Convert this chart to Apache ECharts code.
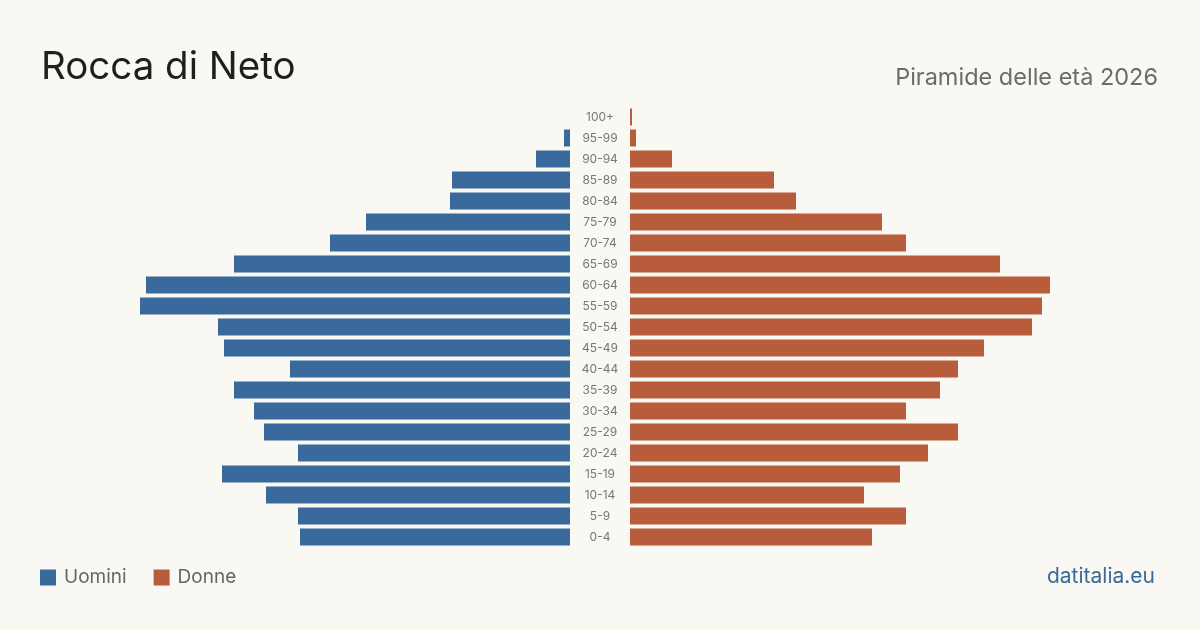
<!DOCTYPE html>
<html>
<head>
<meta charset="utf-8">
<script src="https://cdn.jsdelivr.net/npm/echarts@6/dist/echarts.min.js"></script>
<style>
html,body{margin:0;padding:0;background:#f9f8f3;}
#chart{width:1200px;height:630px;}
</style>
</head>
<body>
<div id="chart"></div>
<script>
// fasce d'età, dall'alto in basso
var classi = ['100+','95-99','90-94','85-89','80-84','75-79','70-74','65-69','60-64','55-59','50-54','45-49','40-44','35-39','30-34','25-29','20-24','15-19','10-14','5-9','0-4'];
var uomini = [0,3,17,59,60,102,120,168,212,215,176,173,140,168,158,153,136,174,152,136,135];
var donne = [1,3,21,72,83,126,138,185,210,206,201,177,164,155,138,164,149,135,117,138,121];

var blu = '#3a6a9c';
var rosso = '#b95c3b';
var maxVal = 265;

var myChart = echarts.init(document.getElementById('chart'));
var option = {
    backgroundColor: '#f9f8f3',
    animation: false,
    textStyle: {fontFamily: 'Inter'},
    title: [
        {
            text: 'Rocca di Neto',
            left: 41, top: 48, padding: 0,
            textStyle: {fontSize: 38.5, fontWeight: 'normal', color: '#1f1f1f', fontFamily: 'Inter'}
        },
        {
            text: 'Piramide delle età 2026',
            right: 42, top: 66, padding: 0,
            textStyle: {fontSize: 23.5, fontWeight: 'normal', color: '#6b6b6b', fontFamily: 'Inter'}
        },
        {
            text: 'datitalia.eu',
            right: 45, top: 566, padding: 0,
            textStyle: {fontSize: 21, fontWeight: 'normal', color: '#3a6a9c', fontFamily: 'Inter'}
        }
    ],
    legend: {
        left: 40, top: 568, padding: 0,
        itemWidth: 16, itemHeight: 16, itemGap: 27,
        icon: 'rect',
        textStyle: {fontSize: 19, color: '#666', fontFamily: 'Inter', padding: [0, 0, 0, 3]},
        data: ['Uomini', 'Donne']
    },
    grid: [
        {left: 40, width: 530, top: 106.5, height: 441},
        {left: 630, width: 530, top: 106.5, height: 441}
    ],
    xAxis: [
        {gridIndex: 0, type: 'value', min: 0, max: maxVal, inverse: true, show: false},
        {gridIndex: 1, type: 'value', min: 0, max: maxVal, show: false}
    ],
    yAxis: [
        {
            gridIndex: 0, type: 'category', data: classi, inverse: true, position: 'right',
            axisLine: {show: false}, axisTick: {show: false}, splitLine: {show: false},
            axisLabel: {align: 'center', margin: 30, fontSize: 12, color: '#777', fontFamily: 'Inter'}
        },
        {
            gridIndex: 1, type: 'category', data: classi, inverse: true,
            axisLine: {show: false}, axisTick: {show: false}, splitLine: {show: false},
            axisLabel: {show: false}
        }
    ],
    series: [
        {
            name: 'Uomini', type: 'bar', xAxisIndex: 0, yAxisIndex: 0,
            data: uomini, barWidth: 17, itemStyle: {color: blu}
        },
        {
            name: 'Donne', type: 'bar', xAxisIndex: 1, yAxisIndex: 1,
            data: donne, barWidth: 17, itemStyle: {color: rosso}
        }
    ]
};
myChart.setOption(option);
</script>
</body>
</html>
